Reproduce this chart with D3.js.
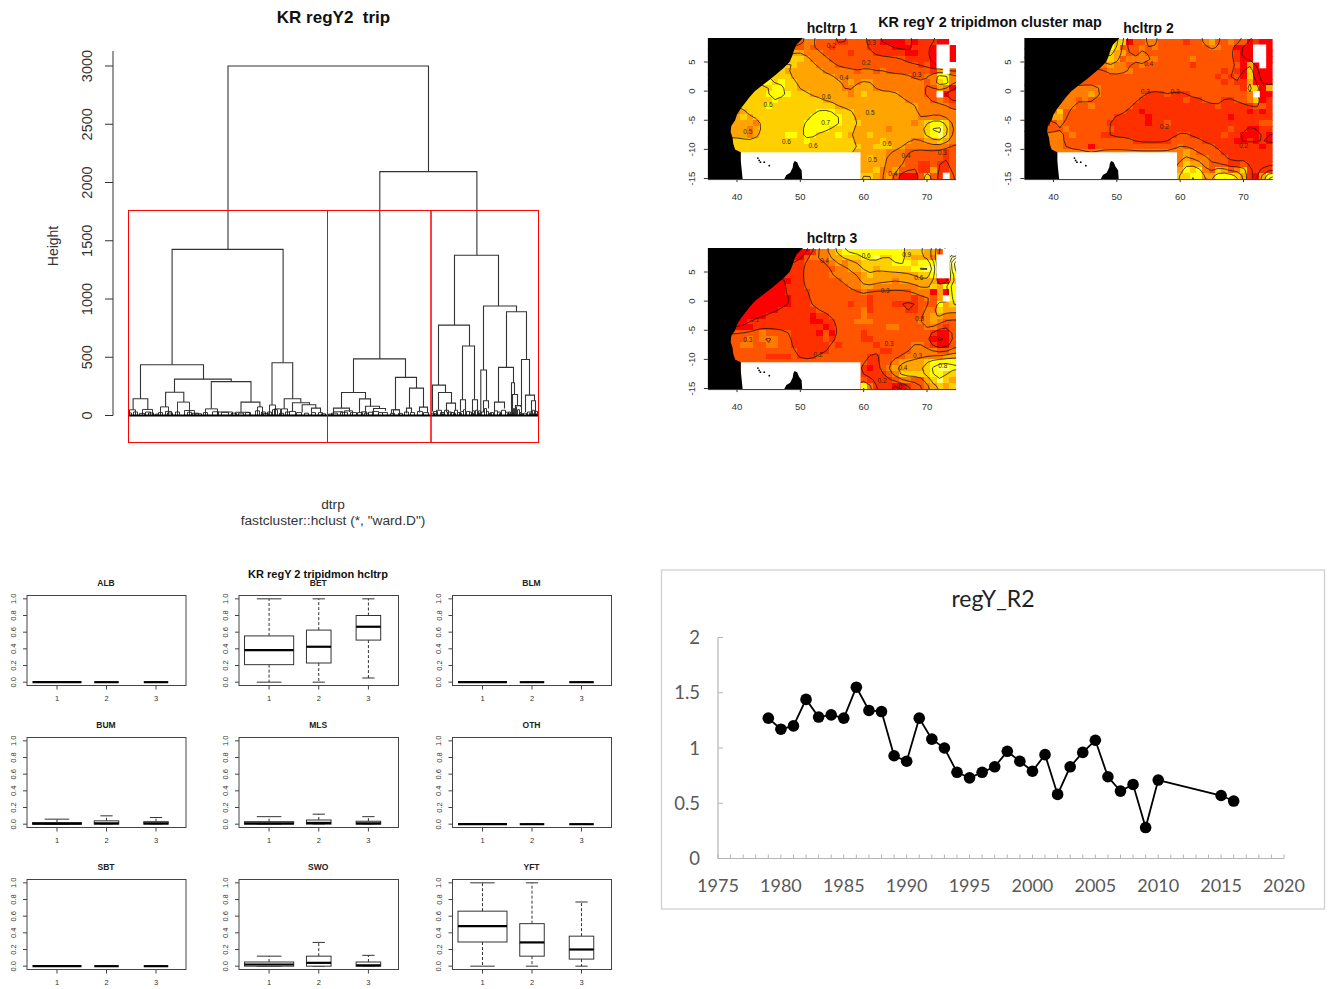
<!DOCTYPE html>
<html><head><meta charset="utf-8"><script src="https://cdn.jsdelivr.net/npm/d3@7"></script>
<style>html,body{margin:0;padding:0;background:#fff;overflow:hidden}svg{display:block}text{font-family:"Liberation Sans",Arial,sans-serif;white-space:pre}</style>
</head><body><svg id="c" width="1330" height="989"></svg>
<script>
// ---------- dendrogram: [leafLeft, leafRight, height, leftChildHeight, rightChildHeight]
const dendroTicks=[0,500,1000,1500,2000,2500,3000];
const dendroMerges=[
[99.5,300,3000,1426,2093],[43.6,154.6,1426,436,453],[251.3,348.4,2093,486,1376],
[12,75,436,144,312],[4.6,19.3,144,50,52],[46,102.8,312,200,291],[37.1,55.3,200,74,115],[82.8,122.5,291,57,115],[112.5,131.4,115,28,74],
[143.5,164.2,453,90,144],[155.7,172.3,144,57,109],[164,181,109,35,92],[173.7,187.3,92,25,63],[183,192,63,25,25],
[225,277,486,198,327],[213,237,198,63,143],[205,221,63,25,30],[231,242,143,25,80],[237,251,80,20,60],[245,257,60,25,40],
[267,288,327,49,235],[263,271,49,20,15],[281,295,235,63,72],[278,283,63,20,25],[291,299,72,25,20],
[326,370,1376,776,940],[310,341,776,261,596],[334,346,596,135,135],[332,337,135,40,50],[344,349,135,30,45],
[304,317,261,35,198],[310,323,198,50,106],[318,327,106,25,45],
[355,388,940,390,891],[352.3,358,390,20,126],[355,360,126,30,60],
[378,398,891,413,481],[370,385,413,115,281],[366,376,115,25,60],[383,386,281,40,180],[384,389,180,30,85],[387,392,85,20,75],
[393,401,481,25,175],[397,406,175,30,126],[403,407,126,30,25]
];
const dendroSmall=[
[0,3,22],[5,9,30],[1,7,49],[11,16,18],[14,24,52],[17,22,30],[20,25,22],[27,30,12],
[32,40,74],[30,34,25],[37,43,35],[39,44,22],[47,51,30],[49,61,115],[56,66,43],[59,63,28],[64,70,20],[67,73,15],
[77,89,57],[75,79,25],[84,90,32],[89,104,30],[93,100,28],[103,108,20],
[107,121,28],[110,115,20],[117,122,25],[129,134,74],[127,131,40],[133,137,30],[135,140,18],
[141,147,90],[139,143,30],[144,149,50],[146,152,57],[151,155,20],[153,159,57],[157,161,30],[161,167,35],[168,173,25],
[176,180,20],[183,187,25],[190,194,25],[193,197,15],
[200,204,12],[203,209,20],[205,214,32],[212,219,28],[216,224,40],[222,228,25],[229,234,25],[233,238,32],[236,240,20],
[240,245,28],[244,250,35],[250,254,25],[254,259,25],[262,266,18],[265,271,49],[270,274,18],[276,280,30],[282,286,25],[289,294,35],[295,300,25],
[303,306,20],[305,309,35],[308,313,45],[312,316,25],[316,320,45],[319,323,30],[322,326,25],[326,329,45],[329,332,25],
[332,335,35],[335,337,50],[338,341,35],[341,343,30],[344,346,40],[347,349,45],[350,352,40],[353,356,30],[356,358,60],[358,360,35],
[362,365,25],[366,369,40],[369,372,30],[373,377,45],[377,380,28],[380,382,30],[383,384,45],[385,386,60],[387,388,75],[389,391,50],[391,393,25],
[395,398,20],[399,403,30],[404,406,45],[407,409,35],[306,308,15],[314,315,15],[325,327,18],[331,333,20],[343,345,18],[349,351,22],[361,363,20],[371,373,18],[379,381,18],[384,385,25],[392,394,18],[401,402,20],[405,408,15]
];
const clusterEdges=[0,199,302.5,410];
const clusterHeights=[-232,1760];

// ---------- maps: 39 x 24 one-degree cells, lat 8.5 to -14.5, lon 36 to 74; digit = tenth of CPUE share, '.' = no data
const map1Rows=[
"333333333333333 4433322333 2211112122 211.",
"333333333333333 4333233333 2222111222 1..1",
"444444444444455 4443333233 3222221122 1..1",
"555555555555566 5444333333 3333332222 1..1",
"666666666666665 5544433333 3333333323 1...",
"666666666666555 5554444434 4343333333 25.3",
"777777777766655 5555544444 4444444334 4774",
"777777777767665 5555554545 5444444443 4674",
"666666666677665 5555554455 5444444443 3541",
"666666666777766 6555555456 5555544443 3.12",
"666666666676666 6665555555 5555554444 3432",
"666666666766666 6666655555 5555555544 4443",
"444445666666666 6677766655 5555555544 4444",
"555556566666666 6777776655 5555555544 4444",
"555555546666666 7777776665 5555555456 7764",
"555555456666666 7777666655 5554555556 7864",
"555555456666776 7766676555 6555555556 7864",
"666666666666666 7666666655 5565555445 5654",
"666666666666666 6666666665 5666554444 4443",
"666666666666666 6666666655 5554443333 3323",
"666666666666666 5555555555 6554443333 3323",
"666666666666666 5555555555 5554443322 3223",
"666666666666666 5555555555 5644533322 5223",
"666666666666666 5555555556 6545311136 32.3"];
const map2Rows=[
"666666666666666 6133443333 2334533433 1210",
"666666666666776 3334343333 3333443311 0..0",
"555555555555665 5334333333 3333333321 1..0",
"444444444444565 3444443333 3433333321 1..0",
"444444444444454 4334333333 3233333331 51.0",
"333333333333344 4433333333 3333332321 6110",
"333333333333333 3333333333 3333323231 6110",
"333333333333333 3333333333 3333332322 5110",
"444444444444333 3333333333 3333333332 6605",
"444444444454333 3333222322 2333333333 4.01",
"444444443433333 3332222222 3223332233 4612",
"444444443343333 3322222222 2222232222 2332",
"444446333333333 3221222222 2222222222 1212",
"444455333333332 2222122222 2222222122 2222",
"333134333333322 2222122322 2222222222 2233",
"333333433333332 2222222222 2222222322 1122",
"444444343333222 2222222223 3222223221 0121",
"444444333333333 3322222233 3332222211 2121",
"444444333313333 3333333334 3333322222 2212",
"444444444444444 4444444444 5433332222 2222",
"444444444444444 4444444444 5444333222 2222",
"444444444444444 4444444444 6554333223 2222",
"444444444444444 4444444445 7674365346 2222",
"444444444444444 4444444456 6775577765 2057"];
const map3Rows=[
"000000000000000 1244567777 7777776665 53..",
"111111111111101 3444556667 7866776555 4..9",
"222222222222222 3333454556 6666777677 7..9",
"222222222222222 3333344556 6566666778 8..8",
"222222222222222 3333444445 6555555566 7..7",
"111111111111122 3333334445 5555455555 5006",
"111111111111222 3333333445 5444444455 6577",
"111111111111222 2333333334 3333333444 1507",
"111111111111122 2333333333 2333333234 35.7",
"111111111111122 2333333233 2333222233 3756",
"111111111112222 2233333334 2333332234 4655",
"111111111222222 2122333334 3333333334 5544",
"111111222222222 2112233344 4333333344 5433",
"111111122222222 2221233333 3334433334 4323",
"333333334333322 2213133332 3333333333 2113",
"333333434443322 2223233332 2333333333 1013",
"333334433443322 2222323333 3233333443 2113",
"333333333333332 2222333333 3322333444 4334",
"333333333222232 2233333333 2233334444 4455",
"333333333333333 3333333333 2233455556 7777",
"333333333333333 3333333332 1234555556 7887",
"333333333333333 3333333332 2223466666 7766",
"333333333333333 3333333333 2222344335 6865",
"333333333333333 3333333337 4222012334 5656"];
const map1Labels=[[60.4,4.8,"0.2"],[68.4,2.8,"0.3"],[56.9,2.3,"0.4"],[44.9,-2.4,"0.6"],[54.1,-1,"0.6"],[61,-3.8,"0.5"],[54,-5.4,"0.7"],[47.8,-8.8,"0.6"],[52,-9.5,"0.6"],[41.7,-7,"0.5"],[63.7,-9,"0.6"],[61.4,-11.9,"0.5"],[66.7,-11.2,"0.4"],[64.6,-14.2,"0.4"],[72.4,-10.6,"0.3"],[54.9,7.7,"0.2"],[61.2,8.2,"0.3"]];
const map2Labels=[[55,4.6,"0.4"],[54.5,-0.1,"0.3"],[59.2,-0.2,"0.3"],[57.5,-6.1,"0.2"],[70,-9.5,"0.2"]];
const map3Labels=[[53.8,6.9,"0.4"],[60.4,7.8,"0.6"],[66.8,7.9,"0.9"],[68.7,4,"0.6"],[63.4,1.8,"0.3"],[42.8,-3.2,"0.1"],[41.7,-6.7,"0.3"],[64,-7.3,"0.3"],[52.8,-9.3,"0.2"],[68.5,-9.5,"0.3"],[68.8,-3,"0.3"],[66.2,-11.4,"0.4"],[62.9,-13.7,"0.2"],[66.2,-14.8,"0.1"],[72.5,-11.1,"0.8"]];
const mapTitles=["hcltrp 1","hcltrp 2","hcltrp 3"];
const cellColors=["#ff0000","#ff0000","#ff3000","#ff5500","#ff7c00","#ffa400","#ffd000","#ffff00","#ffff66","#ffffb0"];
const coastLat=[9.2,8,7,6,5,4,3,2,1,0,-1,-2,-3,-4,-5,-6,-7,-8,-9,-10,-10.5,-12,-15.2];
const coastLon=[50.5,49.4,49,48.7,48.3,47.4,46.3,45.2,44,42.8,42,41.3,40.6,40,39.7,39.1,39,39.3,39.4,39.7,40.6,40.6,40.9];
const madaLon=[47.4,47.8,48.4,48.8,48.9,49.1,49.5,49.8,50.2,50.3];
const madaLat=[-15.2,-14.4,-14,-13.1,-12.4,-12,-12.2,-13,-13.6,-15.2];
const islandLon=[43.3,43.5,43.7,44.3,45.1];
const islandLat=[-11.5,-11.9,-12.2,-12.2,-12.8];
const noDataLon=[40.6,59.5];
const noDataLat=[-10.5,-15.2];
const lonTicks=[40,50,60,70];
const latTicks=[5,0,-5,-10,-15];

// ---------- boxplots: [low whisker, q1, median, q3, high whisker]
const species=["ALB","BET","BLM","BUM","MLS","OTH","SBT","SWO","YFT"];
const zeroBox=[0,0,0,0,0];
const boxALB=[zeroBox,zeroBox,zeroBox];
const boxBET=[[0,.21,.385,.555,1],[0,.23,.425,.625,1],[.05,.505,.665,.80,1]];
const boxBLM=[zeroBox,zeroBox,zeroBox];
const boxBUM=[[0,0,.005,.02,.06],[0,0,.01,.04,.10],[0,0,.01,.03,.08]];
const boxMLS=[[0,0,.01,.03,.09],[0,0,.015,.05,.12],[0,0,.01,.035,.09]];
const boxOTH=[zeroBox,zeroBox,zeroBox];
const boxSBT=[zeroBox,zeroBox,zeroBox];
const boxSWO=[[0,0,.02,.05,.12],[0,0,.04,.12,.285],[0,0,.01,.05,.13]];
const boxYFT=[[0,.29,.48,.66,1],[0,.12,.285,.51,1],[0,.085,.2,.36,.77]];
const boxWidths=[1,.5,.5];
const boxTicks=[0,.2,.4,.6,.8,1];

// ---------- line chart
const years=[1979,1980,1981,1982,1983,1984,1985,1986,1987,1988,1989,1990,1991,1992,1993,1994,1995,1996,1997,1998,1999,2000,2001,2002,2003,2004,2005,2006,2007,2008,2009,2010,2015,2016];
const r2=[1.27,1.17,1.20,1.44,1.28,1.30,1.27,1.55,1.34,1.33,.93,.88,1.27,1.08,1.0,.78,.73,.78,.83,.97,.88,.79,.94,.58,.83,.96,1.07,.74,.61,.67,.28,.71,.57,.52];
const yearTicks=[1975,1980,1985,1990,1995,2000,2005,2010,2015,2020];
const r2Ticks=[0,.5,1,1.5,2];

const svg=d3.select("#c");
const ink="#333";
function txt(g,x,y,s,o={}){
  return g.append("text").attr("x",x).attr("y",y).attr("text-anchor",o.a||"middle")
   .attr("font-size",o.s||12).attr("font-weight",o.w||"normal").attr("fill",o.f||ink)
   .attr("transform",o.r?`rotate(${o.r} ${x} ${y})`:null).style("font-family",o.ff||null).text(s);
}

// ===== dendrogram
(function(){
  const g=svg.append("g");
  const x=d3.scaleLinear([0,410],[128.5,538.5]);
  const y=d3.scaleLinear([0,3000],[415.5,66]);
  txt(g,333.5,23,"KR regY2  trip",{s:17,w:"bold",f:"#111"});
  g.append("line").attr("x1",113).attr("x2",113).attr("y1",51).attr("y2",y(0)).attr("stroke",ink);
  dendroTicks.forEach(t=>{
    g.append("line").attr("x1",105).attr("x2",113).attr("y1",y(t)).attr("y2",y(t)).attr("stroke",ink);
    txt(g,92,y(t),t,{s:14.5,r:-90});
  });
  txt(g,58,246,"Height",{s:14,r:-90});
  txt(g,333,509,"dtrp",{s:13.7});
  txt(g,333,525,'fastcluster::hclust (*, "ward.D")',{s:13.7});
  const path=m=>{const[a,b,h,hl=0,hr=0]=m;return `M${x(a)},${y(hl)}V${y(h)}H${x(b)}V${y(hr)}`};
  g.append("g").selectAll("path").data(dendroSmall).join("path").attr("d",path).attr("fill","none").attr("stroke","#222").attr("stroke-width",.9);
  g.append("g").selectAll("path").data(dendroMerges).join("path").attr("d",path).attr("fill","none").attr("stroke","#333").attr("stroke-width",1.1);
  g.append("line").attr("x1",x(0)).attr("x2",x(410)).attr("y1",y(0)).attr("y2",y(0)).attr("stroke","#000").attr("stroke-width",2);
  d3.pairs(clusterEdges).forEach(([a,b])=>{
    g.append("rect").attr("x",x(a)).attr("width",x(b)-x(a)).attr("y",y(clusterHeights[1])).attr("height",y(clusterHeights[0])-y(clusterHeights[1]))
     .attr("fill","none").attr("stroke","#f00").attr("stroke-width",1);
  });
})();

// ===== maps
function drawMap(rows,labels,title,dx,dy,id){
  const g=svg.append("g");
  const lon=d3.scaleLinear([40,70],[737+dx,927+dx]);
  const lat=d3.scaleLinear([5,-15],[62+dy,178.5+dy]);
  const grid=rows.map(r=>r.replace(/\s/g,"").split(""));
  const nx=39,ny=24;
  g.append("clipPath").attr("id",id).append("rect").attr("x",lon(35.4)).attr("y",lat(9.1)).attr("width",lon(74.6)-lon(35.4)).attr("height",lat(-15.1)-lat(9.1));
  const body=g.append("g").attr("clip-path",`url(#${id})`);
  const cells=[];
  grid.forEach((row,j)=>row.forEach((c,i)=>cells.push({i,j,c})));
  body.append("g").attr("shape-rendering","crispEdges").selectAll("rect").data(cells.filter(d=>d.c!==".")).join("rect")
    .attr("x",d=>lon(35.5+d.i)).attr("width",d=>lon(36.5+d.i)-lon(35.5+d.i)+.5)
    .attr("y",d=>lat(9-d.j)).attr("height",d=>lat(8-d.j)-lat(9-d.j)+.5)
    .attr("fill",d=>cellColors[+d.c]);
  // contour field, padded by one cell so rings close outside the clip, very lightly blurred
  const px=nx+2,py=ny+2,vals=new Array(px*py);
  for(let j=0;j<py;j++)for(let i=0;i<px;i++){
    const c=grid[Math.min(ny-1,Math.max(0,j-1))][Math.min(nx-1,Math.max(0,i-1))];
    vals[j*px+i]=c==="."?0:+c;
  }
  if(d3.blur2) d3.blur2({data:vals,width:px,height:py},.22);
  const conts=d3.contours().size([px,py]).thresholds([1.5,2.5,3.5,4.5,5.5,6.5,7.5,8.5])(vals);
  const proj=d3.geoTransform({point(x,y){this.stream.point(lon(35.5+x-1),lat(9-(y-1)))}});
  body.append("g").selectAll("path").data(conts).join("path").attr("d",d3.geoPath(proj))
    .attr("fill","none").attr("stroke","#201400").attr("stroke-width",.8);
  body.append("g").selectAll("rect").data(cells.filter(d=>d.c===".")).join("rect")
    .attr("x",d=>lon(35.5+d.i)).attr("width",d=>lon(36.5+d.i)-lon(35.5+d.i)+.5)
    .attr("y",d=>lat(9-d.j)).attr("height",d=>lat(8-d.j)-lat(9-d.j)+.5).attr("fill","#fff");
  body.append("g").selectAll("text").data(labels).join("text")
    .attr("x",d=>lon(d[0])).attr("y",d=>lat(d[1])+2).attr("text-anchor","middle").attr("font-size",6.5).attr("fill","#3a2a00").text(d=>d[2]);
  body.append("rect").attr("x",lon(noDataLon[0])).attr("width",lon(noDataLon[1])-lon(noDataLon[0])).attr("y",lat(noDataLat[0])).attr("height",lat(noDataLat[1])-lat(noDataLat[0])).attr("fill","#fff");
  const poly=[[35,9.2]].concat(coastLat.map((v,i)=>[coastLon[i],v]),[[35,-15.2]]);
  const ln=d3.line().x(d=>lon(d[0])).y(d=>lat(d[1]));
  body.append("path").attr("d",ln(poly)+"Z").attr("fill","#000");
  body.append("path").attr("d",ln(madaLon.map((v,i)=>[v,madaLat[i]]))+"Z").attr("fill","#000");
  body.append("g").selectAll("circle").data(islandLon.map((v,i)=>[v,islandLat[i]])).join("circle")
    .attr("cx",d=>lon(d[0])).attr("cy",d=>lat(d[1])).attr("r",.9).attr("fill","#000");
  g.append("path").attr("d",`M${lon(35.4)},${lat(-15.1)+.5}H${lon(74.6)}`).attr("stroke",ink);
  lonTicks.forEach(t=>{
    g.append("line").attr("x1",lon(t)).attr("x2",lon(t)).attr("y1",lat(-15.1)).attr("y2",lat(-15.1)+3).attr("stroke",ink);
    txt(g,lon(t),lat(-15.1)+21,t,{s:9.5});
  });
  latTicks.forEach(t=>{
    g.append("line").attr("x1",lon(35.4)-4).attr("x2",lon(35.4)).attr("y1",lat(t)).attr("y2",lat(t)).attr("stroke",ink);
    txt(g,lon(35.4)-13,lat(t),t,{s:9.5,r:-90});
  });
  txt(g,(lon(35.4)+lon(74.6))/2,dy+33,title,{s:14,w:"bold",f:"#111"});
}
drawMap(map1Rows,map1Labels,mapTitles[0],0,0,"m1");
drawMap(map2Rows,map2Labels,mapTitles[1],316.5,0,"m2");
drawMap(map3Rows,map3Labels,mapTitles[2],0,210,"m3");
txt(svg,990,27,"KR regY 2 tripidmon cluster map",{s:14.4,w:"bold",f:"#111"});

// ===== boxplots
(function(){
  const all=[boxALB,boxBET,boxBLM,boxBUM,boxMLS,boxOTH,boxSBT,boxSWO,boxYFT];
  const colsX=[[27,186],[239,398.5],[452.5,611.5]];
  const rowsY=[595.5,737.5,879.5];
  txt(svg,318,578,"KR regY 2 tripidmon hcltrp",{s:11,w:"bold",f:"#111"});
  species.forEach((sp,k)=>{
    const [x0,x1]=colsX[k%3], top=rowsY[Math.floor(k/3)], bot=top+90;
    const g=svg.append("g");
    const x=d3.scaleLinear([.394,3.606],[x0,x1]);
    const y=d3.scaleLinear([-.04,1.04],[bot,top]);
    g.append("rect").attr("x",x0).attr("y",top).attr("width",x1-x0).attr("height",bot-top).attr("fill","none").attr("stroke","#444");
    txt(g,(x0+x1)/2-.5,top-10,sp,{s:8.5,w:"bold",f:"#222"});
    boxTicks.forEach(t=>{
      g.append("line").attr("x1",x0-4).attr("x2",x0).attr("y1",y(t)).attr("y2",y(t)).attr("stroke","#444");
      txt(g,x0-11,y(t),t.toFixed(1),{s:7.5,r:-90});
    });
    [1,2,3].forEach(t=>{
      g.append("line").attr("x1",x(t)).attr("x2",x(t)).attr("y1",bot).attr("y2",bot+4).attr("stroke","#444");
      txt(g,x(t),bot+15,t,{s:7.5});
    });
    all[k].forEach((b,i)=>{
      const c=x(i+1),hw=x(boxWidths[i]*.495)-x(0);
      const capw=hw*.5;
      g.append("path").attr("d",`M${c},${y(b[3])}V${y(b[4])}M${c},${y(b[1])}V${y(b[0])}`).attr("stroke","#333").attr("stroke-dasharray","3,2").attr("fill","none");
      g.append("path").attr("d",`M${c-capw},${y(b[4])}H${c+capw}M${c-capw},${y(b[0])}H${c+capw}`).attr("stroke","#333").attr("fill","none");
      g.append("rect").attr("x",c-hw).attr("width",2*hw).attr("y",y(b[3])).attr("height",y(b[1])-y(b[3])).attr("fill","#fff").attr("stroke","#333");
      g.append("line").attr("x1",c-hw).attr("x2",c+hw).attr("y1",y(b[2])).attr("y2",y(b[2])).attr("stroke","#000").attr("stroke-width",2.2);
    });
  });
})();

// ===== line chart
(function(){
  const g=svg.append("g");
  g.append("rect").attr("x",661.5).attr("y",570).attr("width",663).attr("height",339).attr("fill","#fff").attr("stroke","#d0d0d0").attr("stroke-width",1.3);
  const x=d3.scaleLinear([1975,2020],[718,1284]);
  const y=d3.scaleLinear([0,2],[858.5,637.5]);
  const ff="Lato, 'Open Sans', sans-serif";
  txt(g,993,607,"regY_R2",{s:23,f:"#222",ff});
  g.append("path").attr("d",`M${x(1975)},${y(2)}V${y(0)}H${x(2020)}`).attr("fill","none").attr("stroke","#b5b5b5").attr("stroke-width",1.2);
  d3.range(1975,2021).forEach(t=>g.append("line").attr("x1",x(t)).attr("x2",x(t)).attr("y1",y(0)).attr("y2",y(0)-4).attr("stroke","#b5b5b5"));
  r2Ticks.forEach(t=>{
    g.append("line").attr("x1",x(1975)).attr("x2",x(1975)+5).attr("y1",y(t)).attr("y2",y(t)).attr("stroke","#b5b5b5");
    txt(g,700,y(t)+6.5,t,{s:18.5,a:"end",f:"#595959",ff});
  });
  yearTicks.forEach(t=>txt(g,x(t),892,t,{s:18,f:"#595959",ff}));
  const pts=years.map((v,i)=>[v,r2[i]]);
  g.append("path").attr("d",d3.line().x(d=>x(d[0])).y(d=>y(d[1]))(pts)).attr("fill","none").attr("stroke","#000").attr("stroke-width",1.8);
  g.append("g").selectAll("circle").data(pts).join("circle").attr("cx",d=>x(d[0])).attr("cy",d=>y(d[1])).attr("r",5.8).attr("fill","#000");
})();
</script></body></html>
